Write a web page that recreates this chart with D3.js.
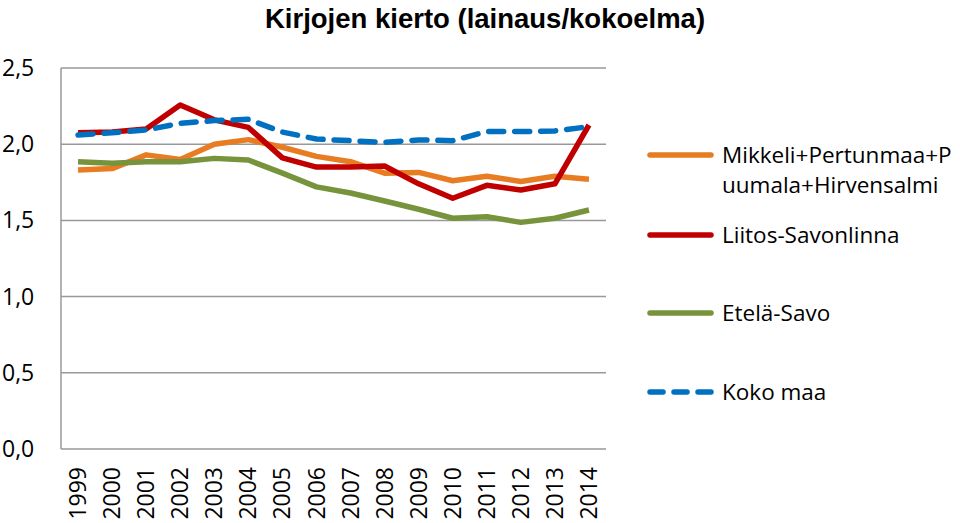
<!DOCTYPE html>
<html>
<head>
<meta charset="utf-8">
<script src="https://cdn.jsdelivr.net/npm/d3@7"></script>
<style>
 body { margin: 0; background: #fff; }
 text { font-family: "Open Sans", "Noto Sans", sans-serif; fill: #000; }
</style>
</head>
<body>
<div id="chart"></div>
<script>
var years = ["1999", "2000", "2001", "2002", "2003", "2004", "2005", "2006",
 "2007", "2008", "2009", "2010", "2011", "2012", "2013", "2014"];
var mikkeli = [1.83, 1.84, 1.93, 1.90, 2.00, 2.03, 1.98, 1.92, 1.885, 1.81, 1.815, 1.76, 1.79, 1.755, 1.79, 1.77];
var liitos = [2.075, 2.08, 2.10, 2.257, 2.16, 2.11, 1.91, 1.85, 1.85, 1.857, 1.74, 1.645, 1.73, 1.70, 1.74, 2.126];
var etelaSavo = [1.885, 1.875, 1.885, 1.885, 1.907, 1.896, 1.81, 1.72, 1.68, 1.627, 1.573, 1.514, 1.524, 1.487, 1.514, 1.568];
var kokoMaa = [2.06, 2.075, 2.093, 2.137, 2.155, 2.163, 2.08, 2.034, 2.023, 2.012, 2.028, 2.023, 2.083, 2.083, 2.087, 2.115];
var yTicks = [0, 0.5, 1, 1.5, 2, 2.5];

var series = [
 {name: ["Mikkeli+Pertunmaa+P", "uumala+Hirvensalmi"], values: mikkeli, color: "#e87c22", dash: null},
 {name: ["Liitos-Savonlinna"], values: liitos, color: "#c00000", dash: null},
 {name: ["Etelä-Savo"], values: etelaSavo, color: "#77933c", dash: null},
 {name: ["Koko maa"], values: kokoMaa, color: "#0070c0", dash: "15,11"}
];

var width = 960, height = 523;
var plotLeft = 61, plotRight = 606, plotTop = 68, plotBottom = 449;

var svg = d3.select("#chart").append("svg")
 .attr("width", width)
 .attr("height", height);

var x = d3.scaleBand().domain(years).range([plotLeft, plotRight]);
var y = d3.scaleLinear().domain([0, 2.5]).range([plotBottom, plotTop]);

// gridlines
svg.append("g")
 .selectAll("line")
 .data(yTicks)
 .enter().append("line")
 .attr("x1", plotLeft).attr("x2", plotRight)
 .attr("y1", function(d) { return y(d); })
 .attr("y2", function(d) { return y(d); })
 .attr("stroke", "#999")
 .attr("stroke-width", 1.5);

svg.append("line")
 .attr("x1", plotLeft).attr("x2", plotLeft)
 .attr("y1", plotTop).attr("y2", plotBottom)
 .attr("stroke", "#999")
 .attr("stroke-width", 1.5);

// y labels
svg.append("g")
 .selectAll("text")
 .data(yTicks)
 .enter().append("text")
 .attr("x", 2)
 .attr("y", function(d) { return y(d); })
 .attr("dy", "0.35em")
 .style("font-size", "23px")
 .text(function(d) { return d3.format(".1f")(d).replace(".", ","); });

// x labels
svg.append("g")
 .selectAll("text")
 .data(years)
 .enter().append("text")
 .attr("transform", function(d) {
  return "translate(" + (x(d) + x.bandwidth() / 2) + "," + 467 + ") rotate(-90)";
 })
 .attr("text-anchor", "end")
 .attr("dy", "0.35em")
 .style("font-size", "23px")
 .text(function(d) { return d; });

var line = d3.line()
 .x(function(d, i) { return x(years[i]) + x.bandwidth() / 2; })
 .y(function(d) { return y(d); });

svg.append("g")
 .selectAll("path")
 .data(series)
 .enter().append("path")
 .attr("d", function(s) { return line(s.values); })
 .attr("fill", "none")
 .attr("stroke", function(s) { return s.color; })
 .attr("stroke-width", 5.5)
 .attr("stroke-linejoin", "round")
 .attr("stroke-linecap", function(s) { return s.dash ? "round" : "butt"; })
 .attr("stroke-dasharray", function(s) { return s.dash; });

// title
svg.append("text")
 .attr("x", 485)
 .attr("y", 28)
 .attr("text-anchor", "middle")
 .style("font-family", "'Liberation Sans', Arial, sans-serif")
 .style("font-weight", "bold")
 .style("font-size", "27.5px")
 .text("Kirjojen kierto (lainaus/kokoelma)");

// legend
var legendY = [155, 235, 313, 392];
var lg = svg.append("g")
 .selectAll("g")
 .data(series)
 .enter().append("g")
 .attr("transform", function(s, i) { return "translate(0," + legendY[i] + ")"; });

lg.append("line")
 .attr("x1", 650).attr("x2", 711)
 .attr("y1", 0).attr("y2", 0)
 .attr("stroke", function(s) { return s.color; })
 .attr("stroke-width", 5.5)
 .attr("stroke-linecap", "round")
 .attr("stroke-dasharray", function(s) { return s.dash ? "13,11" : null; });

lg.append("text")
 .attr("x", 722)
 .attr("y", 0)
 .style("font-size", "22.5px")
 .selectAll("tspan")
 .data(function(s) { return s.name; })
 .enter().append("tspan")
 .attr("x", 722)
 .attr("dy", function(d, i) { return i === 0 ? "0.35em" : "1.35em"; })
 .text(function(d) { return d; });
</script>
</body>
</html>
